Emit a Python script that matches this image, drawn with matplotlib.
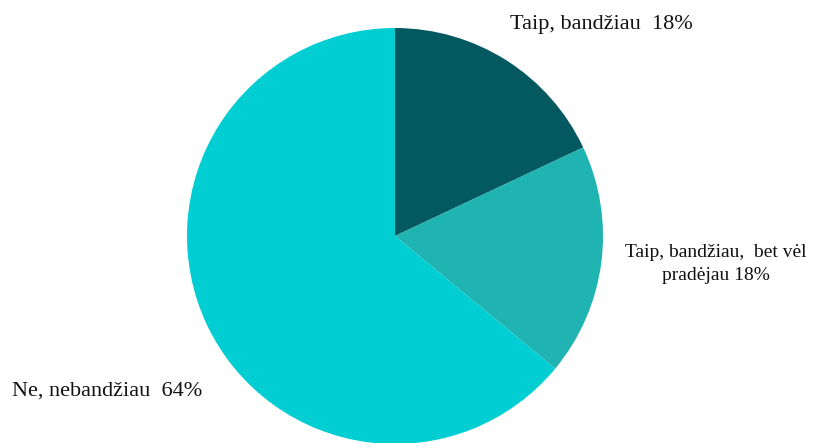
import matplotlib
matplotlib.use('Agg')
import matplotlib.pyplot as plt

labels = ['Taip, bandžiau  18%', 'Taip, bandžiau,  bet vėl\npradėjau 18%', 'Ne, nebandžiau  64%']
values = [18, 18, 64]
colors = ['#04585F', '#1FB3B1', '#00CED3']

# label anchor (x, y, ha, va, size) in pie data coordinates
label_pos = [(0.553, 0.995, 'left', 'baseline', 16),
             (1.543, -0.135, 'center', 'center', 14),
             (-1.841, -0.769, 'left', 'baseline', 16)]

W, H, dpi = 837, 443, 100
fig = plt.figure(figsize=(W / dpi, H / dpi), dpi=dpi)
ax = fig.add_axes([187 / W, -1 / H, 416 / W, 416 / H])
ax.pie(values, colors=colors, startangle=90, counterclock=False, radius=1)
ax.set_xlim(-1, 1)
ax.set_ylim(-1, 1)
ax.set_aspect('equal')
ax.axis('off')

for text, (x, y, ha, va, size) in zip(labels, label_pos):
    ax.text(x, y, text, ha=ha, va=va, multialignment='center',
            fontsize=size, family='Liberation Serif', color='#111111',
            linespacing=1.5, clip_on=False)

fig.savefig('out.png', dpi=dpi)
